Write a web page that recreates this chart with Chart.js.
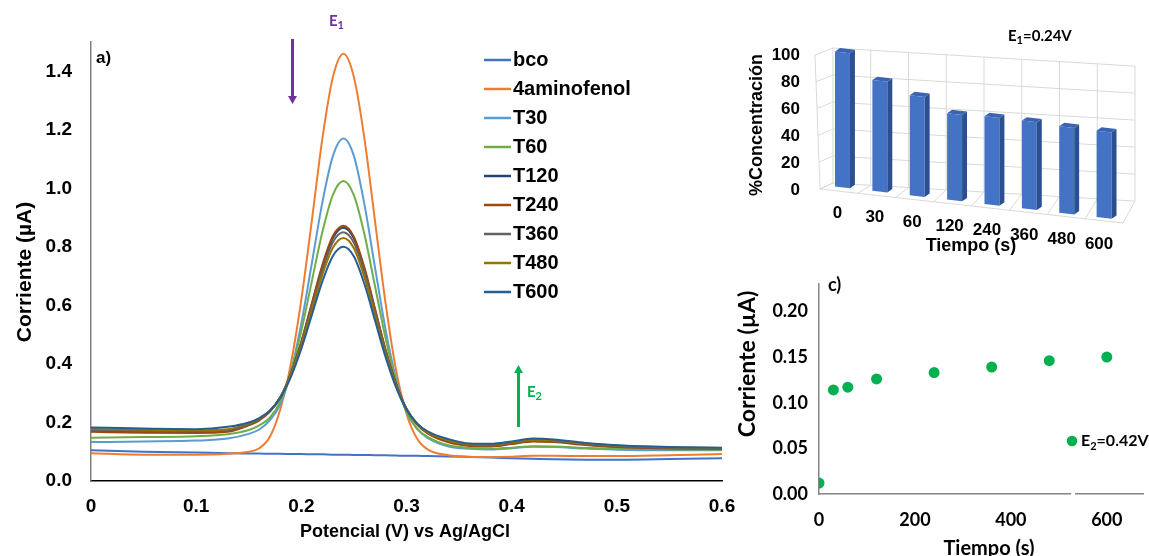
<!DOCTYPE html>
<html>
<head>
<meta charset="utf-8">
<script src="https://cdn.jsdelivr.net/npm/chart.js@4.4.1/dist/chart.umd.min.js"></script>
<style>
  html, body { margin: 0; padding: 0; background: #fff; }
  body { width: 1149px; height: 556px; position: relative; overflow: hidden; }
  .panel { position: absolute; }
  #wrapA { left: 0; top: 0; }
  #wrapB { left: 740px; top: 0; }
  #wrapC { left: 730px; top: 262px; }
</style>
</head>
<body>
<div class="panel" id="wrapA"><canvas id="chartA" width="740" height="556"></canvas></div>
<div class="panel" id="wrapB"><canvas id="chartB" width="409" height="262"></canvas></div>
<div class="panel" id="wrapC"><canvas id="chartC" width="419" height="294"></canvas></div>
<script>
// ---- a) voltamperogramas ----
const potencial = [0, 0.05, 0.10, 0.13, 0.15, 0.16, 0.17, 0.18, 0.19, 0.20, 0.21, 0.22, 0.23, 0.24,
  0.25, 0.26, 0.27, 0.28, 0.29, 0.30, 0.31, 0.32, 0.34, 0.36, 0.38, 0.40, 0.42, 0.44, 0.47, 0.50, 0.55, 0.60];

const bco = [0.105, 0.100, 0.097, 0.095, 0.094, 0.094, 0.093, 0.093, 0.092, 0.092, 0.091, 0.091, 0.090, 0.090,
  0.089, 0.089, 0.088, 0.088, 0.087, 0.086, 0.086, 0.085, 0.084, 0.082, 0.080, 0.078, 0.076, 0.074, 0.073, 0.073, 0.075, 0.078];
const aminofenol = [0.095, 0.090, 0.090, 0.093, 0.100, 0.112, 0.150, 0.245, 0.400, 0.620, 0.890, 1.170, 1.380, 1.460,
  1.380, 1.170, 0.890, 0.610, 0.380, 0.230, 0.145, 0.108, 0.088, 0.083, 0.082, 0.083, 0.086, 0.086, 0.085, 0.085, 0.088, 0.092];
const t30 = [0.133, 0.135, 0.138, 0.145, 0.161, 0.176, 0.207, 0.262, 0.373, 0.538, 0.744, 0.952, 1.110, 1.170,
  1.110, 0.945, 0.731, 0.519, 0.350, 0.235, 0.179, 0.147, 0.118, 0.110, 0.108, 0.112, 0.117, 0.116, 0.111, 0.107, 0.105, 0.105];
const t60 = [0.148, 0.150, 0.153, 0.160, 0.174, 0.190, 0.216, 0.272, 0.372, 0.513, 0.683, 0.851, 0.978, 1.025,
  0.976, 0.843, 0.667, 0.489, 0.342, 0.238, 0.179, 0.151, 0.122, 0.113, 0.110, 0.114, 0.119, 0.118, 0.113, 0.110, 0.108, 0.107];
const t120 = [0.172, 0.168, 0.167, 0.172, 0.192, 0.210, 0.238, 0.286, 0.367, 0.475, 0.604, 0.733, 0.830, 0.865,
  0.828, 0.723, 0.586, 0.448, 0.332, 0.247, 0.195, 0.165, 0.135, 0.122, 0.120, 0.128, 0.137, 0.135, 0.125, 0.118, 0.113, 0.111];
const t240 = [0.168, 0.165, 0.164, 0.168, 0.190, 0.207, 0.236, 0.285, 0.366, 0.476, 0.607, 0.738, 0.837, 0.872,
  0.834, 0.729, 0.589, 0.450, 0.333, 0.246, 0.193, 0.163, 0.132, 0.120, 0.118, 0.126, 0.135, 0.133, 0.123, 0.116, 0.111, 0.110];
const t360 = [0.175, 0.171, 0.170, 0.174, 0.194, 0.211, 0.238, 0.286, 0.364, 0.469, 0.595, 0.721, 0.816, 0.850,
  0.814, 0.712, 0.577, 0.442, 0.329, 0.246, 0.195, 0.166, 0.137, 0.124, 0.122, 0.130, 0.139, 0.137, 0.127, 0.120, 0.114, 0.112];
const t480 = [0.178, 0.175, 0.173, 0.177, 0.197, 0.213, 0.240, 0.286, 0.361, 0.463, 0.584, 0.705, 0.797, 0.830,
  0.795, 0.696, 0.566, 0.435, 0.326, 0.245, 0.196, 0.167, 0.139, 0.126, 0.125, 0.132, 0.141, 0.139, 0.128, 0.121, 0.115, 0.113];
const t600 = [0.183, 0.179, 0.177, 0.185, 0.200, 0.215, 0.240, 0.284, 0.355, 0.452, 0.567, 0.682, 0.769, 0.800,
  0.767, 0.673, 0.549, 0.425, 0.321, 0.244, 0.197, 0.170, 0.143, 0.128, 0.127, 0.135, 0.145, 0.142, 0.130, 0.122, 0.116, 0.114];

const serieNames = ['bco', '4aminofenol', 'T30', 'T60', 'T120', 'T240', 'T360', 'T480', 'T600'];
const serieValues = [bco, aminofenol, t30, t60, t120, t240, t360, t480, t600];
const serieColors = ['#4472c4', '#ed7d31', '#5b9bd5', '#70ad47', '#264478', '#9e480e', '#636363', '#997300', '#255e91'];

// ---- b) % concentracion ----
const tiempoCat = ['0', '30', '60', '120', '240', '360', '480', '600'];
const concentracion = [100, 82, 74, 64, 65, 65, 64, 64];

// ---- c) corriente E2 ----
const tiempoC = [0, 30, 60, 120, 240, 360, 480, 600];
const corrienteE2 = [0.012, 0.114, 0.117, 0.126, 0.133, 0.139, 0.146, 0.150];

const ARIAL = '"Liberation Sans", Arial, sans-serif';
const CALIBRI = 'Lato, "Liberation Sans", sans-serif';

function txt(ctx, s, x, y, font, color, align = 'left', rot = 0) {
    ctx.save();
    ctx.translate(x, y);
    if (rot) ctx.rotate(rot);
    ctx.font = font;
    ctx.fillStyle = color;
    ctx.textAlign = align;
    ctx.textBaseline = 'middle';
    ctx.fillText(s, 0, 0);
    ctx.restore();
}

// E + subindice + resto
function subTxt(ctx, main, sub, rest, x, y, size, color) {
    ctx.save();
    ctx.font = `bold ${size}px ${CALIBRI}`;
    ctx.fillStyle = color;
    ctx.textBaseline = 'middle';
    ctx.textAlign = 'left';
    ctx.fillText(main, x, y);
    let w = ctx.measureText(main).width;
    ctx.font = `bold ${Math.round(size * 0.7)}px ${CALIBRI}`;
    ctx.fillText(sub, x + w, y + size * 0.32);
    w += ctx.measureText(sub).width;
    if (rest) {
        ctx.font = `bold ${size}px ${CALIBRI}`;
        ctx.fillText(rest, x + w, y);
    }
    ctx.restore();
}

function arrow(ctx, x, y1, y2, color) {
    // y2 = punta
    const dir = y2 > y1 ? 1 : -1;
    ctx.save();
    ctx.strokeStyle = color;
    ctx.fillStyle = color;
    ctx.lineWidth = 3;
    ctx.beginPath();
    ctx.moveTo(x, y1);
    ctx.lineTo(x, y2 - dir * 6);
    ctx.stroke();
    ctx.beginPath();
    ctx.moveTo(x, y2);
    ctx.lineTo(x - 4.5, y2 - dir * 8);
    ctx.lineTo(x + 4.5, y2 - dir * 8);
    ctx.closePath();
    ctx.fill();
    ctx.restore();
}

const extrasA = {
    id: 'extrasA',
    afterDraw(chart) {
        const ctx = chart.ctx;
        // leyenda
        chart.data.datasets.forEach((ds, i) => {
            const y = 60 + i * 29;
            ctx.save();
            ctx.strokeStyle = ds.borderColor;
            ctx.lineWidth = 2.5;
            ctx.beginPath();
            ctx.moveTo(484, y);
            ctx.lineTo(511, y);
            ctx.stroke();
            ctx.restore();
            txt(ctx, ds.label, 513, y, `bold 20px ${ARIAL}`, '#000');
        });
        txt(ctx, 'a)', 96, 58, `bold 17px ${ARIAL}`, '#000');
        txt(ctx, 'Corriente (µA)', 25, 272, `bold 21px ${ARIAL}`, '#000', 'center', -Math.PI / 2);
        txt(ctx, 'Potencial (V) vs Ag/AgCl', 405, 532, `bold 18px ${ARIAL}`, '#000', 'center');
        arrow(ctx, 292.5, 39, 104, '#7030a0');
        subTxt(ctx, 'E', '1', '', 329, 21, 15, '#7030a0');
        arrow(ctx, 518.5, 427, 365, '#00b050');
        subTxt(ctx, 'E', '2', '', 527, 392, 15, '#00b050');
    }
};

new Chart(document.getElementById('chartA'), {
    type: 'line',
    data: {
        datasets: serieNames.map((name, i) => ({
            label: name,
            data: potencial.map((x, j) => ({ x: x, y: serieValues[i][j] })),
            borderColor: serieColors[i],
            backgroundColor: serieColors[i],
            borderWidth: 2,
            pointRadius: 0,
            cubicInterpolationMode: 'monotone',
            order: serieNames.length - 1 - i
        }))
    },
    options: {
        responsive: false,
        animation: false,
        layout: { padding: { top: 42, right: 18, left: 0, bottom: 0 } },
        plugins: { legend: { display: false }, tooltip: { enabled: false } },
        scales: {
            x: {
                type: 'linear', min: 0, max: 0.6,
                ticks: {
                    stepSize: 0.1, color: '#000', padding: 14,
                    font: { family: ARIAL, size: 19, weight: 'bold' },
                    callback: v => v === 0 ? '0' : v.toFixed(1)
                },
                grid: { display: false, drawTicks: false },
                border: { color: '#000', width: 1.5 },
                afterFit: s => { s.height = 75; s.paddingLeft = 0; s.paddingRight = 0; }
            },
            y: {
                min: 0, max: 1.5,
                ticks: {
                    stepSize: 0.2, color: '#000', padding: 19,
                    font: { family: ARIAL, size: 19, weight: 'bold' },
                    callback: v => v > 1.45 ? '' : v.toFixed(1)
                },
                grid: { display: false, drawTicks: false },
                border: { color: '#808080', width: 1.5 },
                afterFit: s => { s.width = 91; s.paddingTop = 0; s.paddingBottom = 0; }
            }
        }
    },
    plugins: [extrasA]
});

// ---- panel b: columnas con efecto 3D ----
const K1 = 0.06;      // inclinacion de la pared del fondo
const K2 = 0.116;     // inclinacion del plano de las columnas
const BX = 83.8, BS = 0.99, BY = 2.1;
const DX = 5, DY = 4;

const wall3d = {
    id: 'wall3d',
    beforeDatasetsDraw(chart) {
        const { ctx, chartArea: a, scales: { y } } = chart;
        const sh = (x, yy) => [x, yy + K1 * (x - a.left)];
        const seg = (p, q) => { ctx.beginPath(); ctx.moveTo(p[0], p[1]); ctx.lineTo(q[0], q[1]); ctx.stroke(); };
        const n = tiempoCat.length;
        const y0 = y.getPixelForValue(0), y100 = y.getPixelForValue(100);
        const front = i => [80 + i * 303 / n, 189 + i * 34 / n];
        ctx.save();
        ctx.strokeStyle = '#d9d9d9';
        ctx.lineWidth = 1;
        y.ticks.forEach(t => {
            const py = y.getPixelForValue(t.value);
            seg(sh(a.left, py), sh(a.right, py));
            const f = t.value / 100;
            seg([80 - 5 * f, 189 - f * 134], sh(a.left, py));
        });
        for (let i = 0; i <= n; i++) {
            const px = a.left + i * (a.right - a.left) / n;
            seg(sh(px, y100), sh(px, y0));
            seg(sh(px, y0), front(i));
        }
        seg(front(0), front(n));
        seg([75, 55], [80, 189]);
        ctx.restore();

        ctx.save();
        ctx.transform(BS, K2, 0, 1, BX - BS * a.left, BY - K2 * a.left);
    },
    afterDatasetsDraw(chart) {
        const ctx = chart.ctx;
        chart.getDatasetMeta(0).data.forEach(bar => {
            const { x, y, base, width } = bar.getProps(['x', 'y', 'base', 'width'], true);
            const l = x - width / 2, r = x + width / 2;
            ctx.fillStyle = '#2c4f8f';
            ctx.beginPath();
            ctx.moveTo(r, y); ctx.lineTo(r + DX, y - DY); ctx.lineTo(r + DX, base - DY); ctx.lineTo(r, base);
            ctx.closePath(); ctx.fill();
            ctx.fillStyle = '#3a64b3';
            ctx.beginPath();
            ctx.moveTo(l, y); ctx.lineTo(l + DX, y - DY); ctx.lineTo(r + DX, y - DY); ctx.lineTo(r, y);
            ctx.closePath(); ctx.fill();
        });
        ctx.restore();
    },
    afterDraw(chart) {
        const { ctx, chartArea: a, scales: { x, y } } = chart;
        const y0 = y.getPixelForValue(0);
        tiempoCat.forEach((lab, i) => {
            const cx = x.getPixelForValue(i);
            const px = BS * (cx - a.left) + BX - 5;
            const py = y0 + K2 * (cx - a.left) + BY + 26;
            txt(ctx, lab, px, py, `bold 17px ${ARIAL}`, '#000', 'center');
        });
        txt(ctx, 'Tiempo (s)', 231, 246, `bold 18px ${ARIAL}`, '#000', 'center');
        txt(ctx, '%Concentración', 17, 125, `bold 18px ${ARIAL}`, '#000', 'center', -Math.PI / 2);
        subTxt(ctx, 'E', '1', '=0.24V', 268, 36, 15, '#000');
    }
};

new Chart(document.getElementById('chartB'), {
    type: 'bar',
    data: {
        labels: tiempoCat,
        datasets: [{
            data: concentracion,
            backgroundColor: '#4472c4',
            barPercentage: 0.4,
            categoryPercentage: 1,
            clip: false
        }]
    },
    options: {
        responsive: false,
        animation: false,
        layout: { padding: { top: 48, right: 14, left: 0, bottom: 79 } },
        plugins: { legend: { display: false }, tooltip: { enabled: false } },
        scales: {
            x: { display: false },
            y: {
                min: 0, max: 100,
                ticks: {
                    stepSize: 20, color: '#000', padding: 33, labelOffset: 7,
                    font: { family: ARIAL, size: 17, weight: 'bold' }
                },
                grid: { display: false, drawTicks: false },
                border: { display: false },
                afterFit: s => { s.width = 93; s.paddingTop = 0; s.paddingBottom = 0; }
            }
        }
    },
    plugins: [wall3d]
});

// ---- panel c ----
const extrasC = {
    id: 'extrasC',
    afterDraw(chart) {
        const ctx = chart.ctx;
        ctx.save();
        ctx.fillStyle = '#fff';
        ctx.fillRect(341, 229, 4, 6);
        ctx.fillStyle = '#00b050';
        ctx.beginPath();
        ctx.arc(342, 179, 5.3, 0, Math.PI * 2);
        ctx.fill();
        ctx.restore();
        subTxt(ctx, 'E', '2', '=0.42V', 351, 179, 16, '#000');
        txt(ctx, 'c)', 98, 23, `bold 18px ${CALIBRI}`, '#000');
        txt(ctx, 'Corriente (µA)', 18, 102, `bold 23px ${CALIBRI}`, '#000', 'center', -Math.PI / 2);
        txt(ctx, 'Tiempo (s)', 259, 287, `bold 20px ${CALIBRI}`, '#000', 'center');
    }
};

new Chart(document.getElementById('chartC'), {
    type: 'scatter',
    data: {
        datasets: [{
            label: 'E2=0.42V',
            data: tiempoC.map((t, i) => ({ x: t, y: corrienteE2[i] })),
            pointRadius: 5.5,
            pointBackgroundColor: '#00b050',
            pointBorderColor: '#00b050',
            pointBorderWidth: 0
        }]
    },
    options: {
        responsive: false,
        animation: false,
        layout: { padding: { top: 22, right: 0, left: 0, bottom: 0 } },
        plugins: { legend: { display: false }, tooltip: { enabled: false } },
        scales: {
            x: {
                type: 'linear', min: 0, max: 676.5,
                afterBuildTicks: s => { s.ticks = [0, 200, 400, 600].map(v => ({ value: v })); },
                ticks: { color: '#000', padding: 15, font: { family: CALIBRI, size: 18, weight: 'bold' } },
                grid: { display: false, drawTicks: false },
                border: { color: '#868686', width: 1.5 },
                afterFit: s => { s.height = 62; s.paddingLeft = 0; s.paddingRight = 0; }
            },
            y: {
                min: 0, max: 0.23,
                afterBuildTicks: s => { s.ticks = [0, 0.05, 0.1, 0.15, 0.2].map(v => ({ value: v })); },
                ticks: {
                    color: '#000', padding: 11,
                    font: { family: CALIBRI, size: 18, weight: 'bold' },
                    callback: v => v.toFixed(2)
                },
                grid: { display: false, drawTicks: false },
                border: { color: '#868686', width: 1.5 },
                afterFit: s => { s.width = 89; s.paddingTop = 0; s.paddingBottom = 0; }
            }
        }
    },
    plugins: [extrasC]
});
</script>
</body>
</html>
